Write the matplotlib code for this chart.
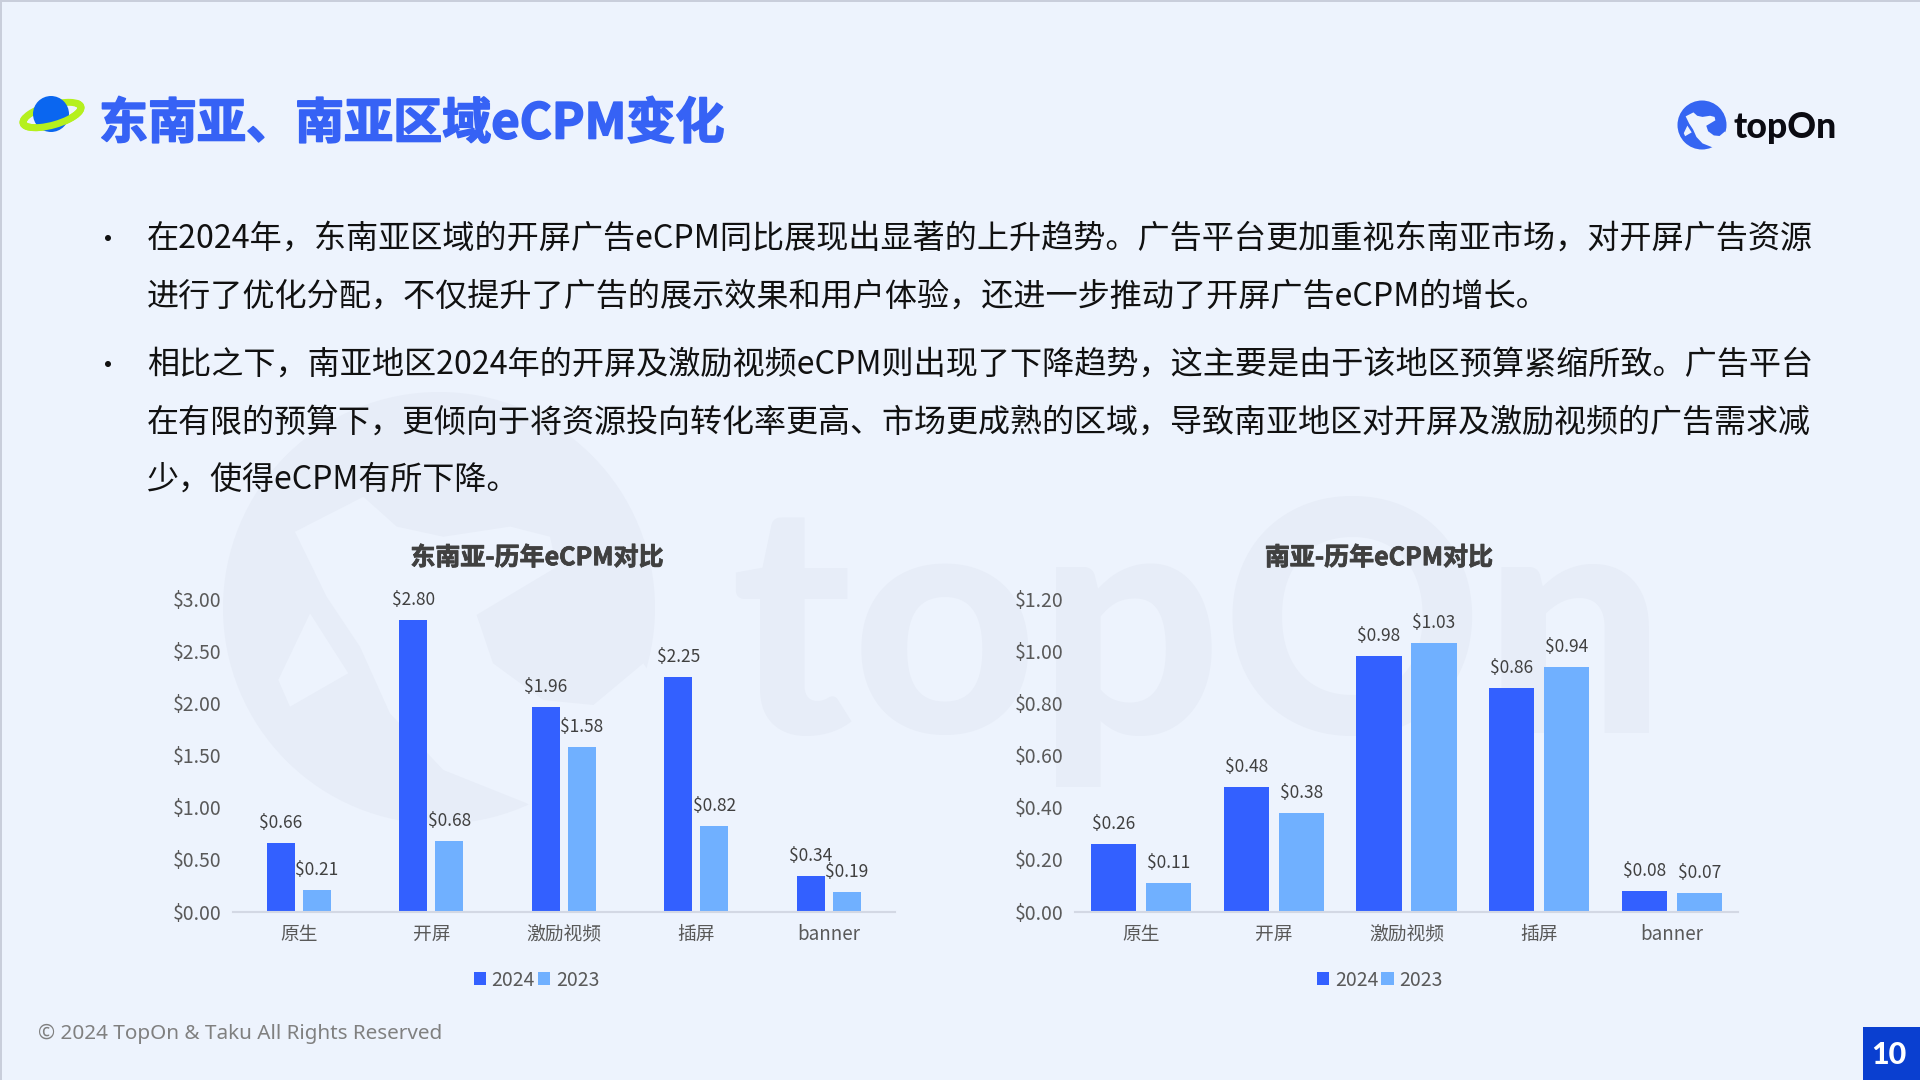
import numpy as np
import matplotlib
matplotlib.use('Agg')
import matplotlib.pyplot as plt
import matplotlib.patheffects as pe
from matplotlib.patches import Circle, Ellipse, Polygon, Rectangle, Arc

# Chart data
categories = ['原生', '开屏', '激励视频', '插屏', 'banner']
sea_2024 = [0.66, 2.80, 1.96, 2.25, 0.34]
sea_2023 = [0.21, 0.68, 1.58, 0.82, 0.19]
sa_2024 = [0.26, 0.48, 0.98, 0.86, 0.08]
sa_2023 = [0.11, 0.38, 1.03, 0.94, 0.07]
sea_ticks = [0.0, 0.5, 1.0, 1.5, 2.0, 2.5, 3.0]
sa_ticks = [0.0, 0.2, 0.4, 0.6, 0.8, 1.0, 1.2]
years = ['2024', '2023']

body_lines = [
    '在2024年，东南亚区域的开屏广告eCPM同比展现出显著的上升趋势。广告平台更加重视东南亚市场，对开屏广告资源',
    '进行了优化分配，不仅提升了广告的展示效果和用户体验，还进一步推动了开屏广告eCPM的增长。',
    '相比之下，南亚地区2024年的开屏及激励视频eCPM则出现了下降趋势，这主要是由于该地区预算紧缩所致。广告平台',
    '在有限的预算下，更倾向于将资源投向转化率更高、市场更成熟的区域，导致南亚地区对开屏及激励视频的广告需求减',
    '少，使得eCPM有所下降。',
]
body_y = [239, 297, 365, 423, 480]
body_size = [23.15, 23.15, 23.15, 23.05, 23.05]

BG = '#edf3fd'
WM = '#e7edf8'
C24 = '#3360ff'
C23 = '#70b0ff'
W, H = 1920, 1080
CJK = ['Noto Sans CJK SC', 'DejaVu Sans']

plt.rcParams['font.family'] = CJK
fig = plt.figure(figsize=(19.2, 10.8), dpi=100, facecolor=BG)

# background layer in pixel coordinates, y going down
bg = fig.add_axes([0, 0, 1, 1], zorder=0)
bg.set_xlim(0, W)
bg.set_ylim(H, 0)
bg.axis('off')


def draw_logo(ax, cx, cy, r, color, hole):
    ax.add_patch(Circle((cx, cy), r, fc=color, ec='none'))
    plane = [(-.667, -.353), (-.35, -.515), (-.196, -.377), (.02, -.33), (.33, -.377), (.514, -.33),
             (.545, -.19), (.174, .032), (.25, .256), (.483, .426), (.715, .449), (.946, .256),
             (1.1, .49), (.95, .8), (.45, .935), (.406, .904), (.02, .75), (-.227, .488),
             (-.366, .179), (-.52, -.052)]
    tail = [(-.597, .025), (-.42, .302), (-.69, .457), (-.744, .333)]
    ax.add_patch(Polygon([(cx + r * a, cy + r * b) for a, b in plane], fc=hole, ec='none'))
    ax.add_patch(Polygon([(cx + r * a, cy + r * b) for a, b in tail], fc=hole, ec='none'))


# frame lines
bg.add_patch(Rectangle((0, 0), 2, H, fc='#c9cedb', ec='none'))
bg.add_patch(Rectangle((0, 0), W, 1.5, fc='#c9cedb', ec='none'))

# watermark
draw_logo(bg, 439, 608, 216, WM, BG)
bg.text(730, 733, 'topOn', fontsize=232, fontweight='black', color=WM, family='Lato',
        ha='left', va='baseline')

# planet icon
bg.add_patch(Ellipse((52, 115), 60, 20, angle=-16, fc='none', ec='#b5f01e', lw=5))
bg.add_patch(Ellipse((51, 114), 36, 36, fc='#0a66f0', ec='none'))
bg.add_patch(Arc((52, 115), 60, 20, angle=-16, theta1=-10, theta2=190, ec='#b5f01e', lw=5))

bg.text(99, 124, '东南亚、南亚区域eCPM变化', fontsize=35.3, fontweight='bold', color='#3662f5',
        ha='left', va='center',
        path_effects=[pe.withStroke(linewidth=1.2, foreground='#3662f5')])

# top right logo
draw_logo(bg, 1702, 125, 24.5, '#3565f2', BG)
bg.text(1734, 128, 'topOn', fontsize=25.6, fontweight='black', color='#0b0b12', family='Lato',
        ha='left', va='center')

# body text
for y, size, line in zip(body_y, body_size, body_lines):
    bg.text(147, y, line, fontsize=size, color='#111111', ha='left', va='center')
for y in (body_y[0], body_y[2]):
    bg.add_patch(Circle((108, y - 1), 3, fc='#111111', ec='none'))

# footer
bg.text(38, 1034, '© 2024 TopOn & Taku All Rights Reserved', fontsize=14.9, color='#808080',
        family='Noto Sans', ha='left', va='center')
bg.add_patch(Rectangle((1863, 1027), 57, 53, fc='#0a3fd0', ec='none'))
bg.text(1889, 1055, '10', fontsize=22, fontweight='black', color='white', family='Lato',
        ha='center', va='center')


def draw_chart(box, title, title_x, legend_x, vals_24, vals_23, ticks, width, offset):
    left, right, top, bottom = box
    ax = fig.add_axes([left / W, 1 - bottom / H, (right - left) / W, (bottom - top) / H], zorder=2)
    ax.patch.set_alpha(0)
    x = np.arange(len(categories))
    b1 = ax.bar(x - offset, vals_24, width, color=C24, label=years[0])
    b2 = ax.bar(x + offset, vals_23, width, color=C23, label=years[1])
    ax.set_xlim(-0.5, len(categories) - 0.5)
    ax.set_ylim(ticks[0], ticks[-1])
    ax.set_xticks(x, categories)
    ax.set_yticks(ticks, [f'${t:.2f}' for t in ticks])
    ax.tick_params(axis='x', length=0, pad=9, labelsize=13.5, labelcolor='#595959')
    ax.tick_params(axis='y', length=0, pad=8, labelsize=14, labelcolor='#595959')
    for s in ('top', 'left', 'right'):
        ax.spines[s].set_visible(False)
    ax.spines['bottom'].set_color('#d3d8e4')
    ax.spines['bottom'].set_linewidth(1.5)
    for bars in (b1, b2):
        for rect in bars:
            ax.annotate(f'${rect.get_height():.2f}', (rect.get_x() + rect.get_width() / 2, rect.get_height()),
                        xytext=(0, 20 * 0.72), textcoords='offset points', ha='center', va='center',
                        fontsize=12.5, color='#404040', annotation_clip=False)
    bg.text(title_x, 558, title, fontsize=18, fontweight='bold', color='#404040', ha='center', va='center',
            path_effects=[pe.withStroke(linewidth=0.6, foreground='#404040')])
    handles = [Rectangle((0, 0), 1, 1, fc=C24), Rectangle((0, 0), 1, 1, fc=C23)]
    fig.legend(handles, years, loc='center', bbox_to_anchor=(legend_x / W, 1 - 980 / H), ncol=2,
               frameon=False, fontsize=14, labelcolor='#595959', handlelength=0.62, handleheight=0.62,
               handletextpad=0.3, columnspacing=0.15, borderpad=0, borderaxespad=0)


draw_chart((232.5, 895, 599, 911.5), '东南亚-历年eCPM对比', 537, 536.5, sea_2024, sea_2023, sea_ticks, 0.2113, 0.136)
draw_chart((1075, 1738, 599, 911.5), '南亚-历年eCPM对比', 1379, 1380, sa_2024, sa_2023, sa_ticks, 0.34, 0.2075)

fig.savefig('out.png', dpi=100, facecolor=BG)
